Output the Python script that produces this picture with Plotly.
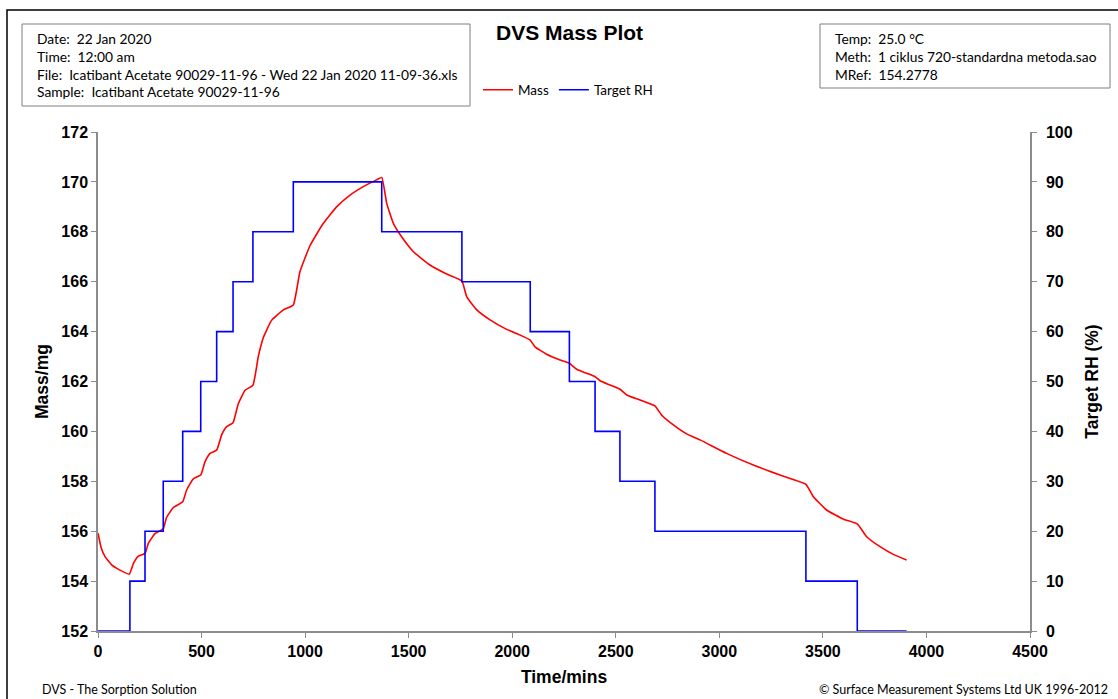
import plotly.graph_objects as go

# Target RH step profile (time in mins, RH %)
rh_time = [0, 154, 154, 227, 227, 315, 315, 409, 409, 496, 496, 573, 573, 652, 652,
           748, 748, 943, 943, 1370, 1370, 1757, 1757, 2087, 2087, 2276, 2276, 2400,
           2400, 2520, 2520, 2689, 2689, 3418, 3418, 3666, 3666, 3904]
rh_value = [0, 0, 10, 10, 20, 20, 30, 30, 40, 40, 50, 50, 60, 60, 70,
            70, 80, 80, 90, 90, 80, 80, 70, 70, 60, 60, 50, 50,
            40, 40, 30, 30, 20, 20, 10, 10, 0, 0]

# Mass curve (time in mins, mass in mg)
mass_time = [0, 15, 34, 66, 106, 151, 171, 195, 227, 243, 275, 315, 331, 364, 409,
             428, 460, 496, 517, 541, 573, 597, 621, 652, 677, 710, 748, 774, 798,
             838, 895, 943, 975, 1024, 1088, 1152, 1217, 1281, 1345, 1370, 1394,
             1426, 1466, 1523, 1603, 1683, 1757, 1780, 1829, 1893, 1973, 2038, 2087,
             2110, 2166, 2231, 2276, 2311, 2359, 2400, 2424, 2472, 2520, 2553, 2617,
             2689, 2721, 2778, 2842, 2907, 3035, 3164, 3293, 3418, 3454, 3518, 3599,
             3666, 3711, 3776, 3840, 3904]
mass_value = [155.92, 155.35, 154.98, 154.65, 154.44, 154.28, 154.71, 155.00, 155.11,
              155.51, 155.90, 156.10, 156.55, 156.95, 157.18, 157.65, 158.10, 158.25,
              158.79, 159.12, 159.25, 159.86, 160.19, 160.35, 161.10, 161.65, 161.85,
              163.00, 163.75, 164.45, 164.87, 165.07, 166.40, 167.45, 168.34, 169.00,
              169.47, 169.81, 170.08, 170.18, 169.14, 168.34, 167.80, 167.20, 166.67,
              166.31, 166.03, 165.40, 164.87, 164.47, 164.09, 163.86, 163.66, 163.39,
              163.09, 162.86, 162.73, 162.49, 162.33, 162.19, 162.03, 161.86, 161.69,
              161.46, 161.26, 161.02, 160.66, 160.26, 159.90, 159.66, 159.12, 158.65,
              158.25, 157.88, 157.38, 156.85, 156.48, 156.29, 155.78, 155.38, 155.07,
              154.85]

x_ticks = [0, 500, 1000, 1500, 2000, 2500, 3000, 3500, 4000, 4500]
mass_ticks = [152, 154, 156, 158, 160, 162, 164, 166, 168, 170, 172]
rh_ticks = [0, 10, 20, 30, 40, 50, 60, 70, 80, 90, 100]

info_left = ["Date:  22 Jan 2020", "Time:  12:00 am",
             "File:  Icatibant Acetate 90029-11-96 - Wed 22 Jan 2020 11-09-36.xls",
             "Sample:  Icatibant Acetate 90029-11-96"]
info_right = ["Temp:  25.0 °C", "Meth:  1 ciklus 720-standardna metoda.sao",
              "MRef:  154.2778"]

W, H = 1118, 699
L, R, T, B = 98, 88, 132, 68
PW, PH = W - L - R, H - T - B


def px(x):
    return (x - L) / PW


def py(y):
    return (H - B - y) / PH


AX = "Liberation Sans"
CAL = "Lato"
GRAY = "#8c8c8c"

fig = go.Figure()
fig.add_trace(go.Scatter(x=mass_time, y=mass_value, name="Mass", mode="lines",
                         line=dict(color="#ff0000", width=1.6, shape="spline",
                                   smoothing=0.4)))
fig.add_trace(go.Scatter(x=rh_time, y=rh_value, name="Target RH", mode="lines",
                         line=dict(color="#0000ff", width=1.6), yaxis="y2"))

tickfont = dict(family=AX, size=16, color="black", weight="bold")
titlefont = dict(family=AX, size=17.5, color="black", weight="bold")

fig.update_layout(
    width=W, height=H,
    margin=dict(l=L, r=R, t=T, b=B),
    paper_bgcolor="white", plot_bgcolor="white",
    showlegend=True,
    legend=dict(orientation="h", x=px(478), y=py(90), xanchor="left", yanchor="middle",
                font=dict(family=CAL, size=13.5, color="black"),
                bgcolor="rgba(0,0,0,0)", itemwidth=30, tracegroupgap=0),
    xaxis=dict(range=[0, 4500], tickvals=x_ticks, showgrid=False, zeroline=False,
               showline=True, linecolor=GRAY, linewidth=1.5, ticks="outside",
               tickcolor=GRAY, ticklen=5, tickfont=tickfont,
               title=dict(text="Time/mins", font=titlefont, standoff=12)),
    yaxis=dict(range=[152, 172], tickvals=mass_ticks, showgrid=False, zeroline=False,
               showline=True, linecolor=GRAY, linewidth=1.5, ticks="outside",
               tickcolor=GRAY, ticklen=5, tickfont=tickfont,
               title=dict(text="Mass/mg", font=titlefont, standoff=8)),
    yaxis2=dict(range=[0, 100], tickvals=rh_ticks, overlaying="y", side="right",
                showgrid=False, zeroline=False, showline=True, linecolor=GRAY,
                linewidth=1.5, ticks="outside", tickcolor=GRAY, ticklen=5,
                ticklabelstandoff=6, tickfont=tickfont,
                title=dict(text="Target RH (%)", font=titlefont, standoff=14)),
)

shapes = [
    # outer frame
    dict(type="rect", xref="paper", yref="paper", x0=px(7), y0=py(720), x1=px(1140),
         y1=py(10), line=dict(color="black", width=1.5), fillcolor="rgba(0,0,0,0)",
         layer="below"),
    # info boxes
    dict(type="rect", xref="paper", yref="paper", x0=px(22), y0=py(106), x1=px(470),
         y1=py(24), line=dict(color="#7f7f7f", width=1), layer="below"),
    dict(type="rect", xref="paper", yref="paper", x0=px(820), y0=py(88), x1=px(1110),
         y1=py(24), line=dict(color="#7f7f7f", width=1), layer="below"),
]

ann = []
for i, t in enumerate(info_left):
    ann.append(dict(text=t, xref="paper", yref="paper", x=px(35), y=py(38 + 18 * i),
                    xanchor="left", yanchor="middle", showarrow=False,
                    font=dict(family=CAL, size=13.8, color="black")))
for i, t in enumerate(info_right):
    ann.append(dict(text=t, xref="paper", yref="paper", x=px(833), y=py(38 + 18 * i),
                    xanchor="left", yanchor="middle", showarrow=False,
                    font=dict(family=CAL, size=13.8, color="black")))
ann.append(dict(text="DVS Mass Plot", xref="paper", yref="paper", x=px(569), y=py(33),
                xanchor="center", yanchor="middle", showarrow=False,
                font=dict(family=AX, size=21, color="black", weight="bold")))
ann.append(dict(text="DVS - The Sorption Solution", xref="paper", yref="paper",
                x=px(40), y=py(689), xanchor="left", yanchor="middle", showarrow=False,
                font=dict(family=CAL, size=12.5, color="black")))
ann.append(dict(text="© Surface Measurement Systems Ltd UK 1996-2012", xref="paper",
                yref="paper", x=px(1110), y=py(689), xanchor="right", yanchor="middle",
                showarrow=False, font=dict(family=CAL, size=12.5, color="black")))

fig.update_layout(shapes=shapes, annotations=ann)
fig.write_html(
    "out.html",
    config={"displayModeBar": False},
    post_script="document.body.style.margin='0';document.body.style.overflow='hidden';",
)
